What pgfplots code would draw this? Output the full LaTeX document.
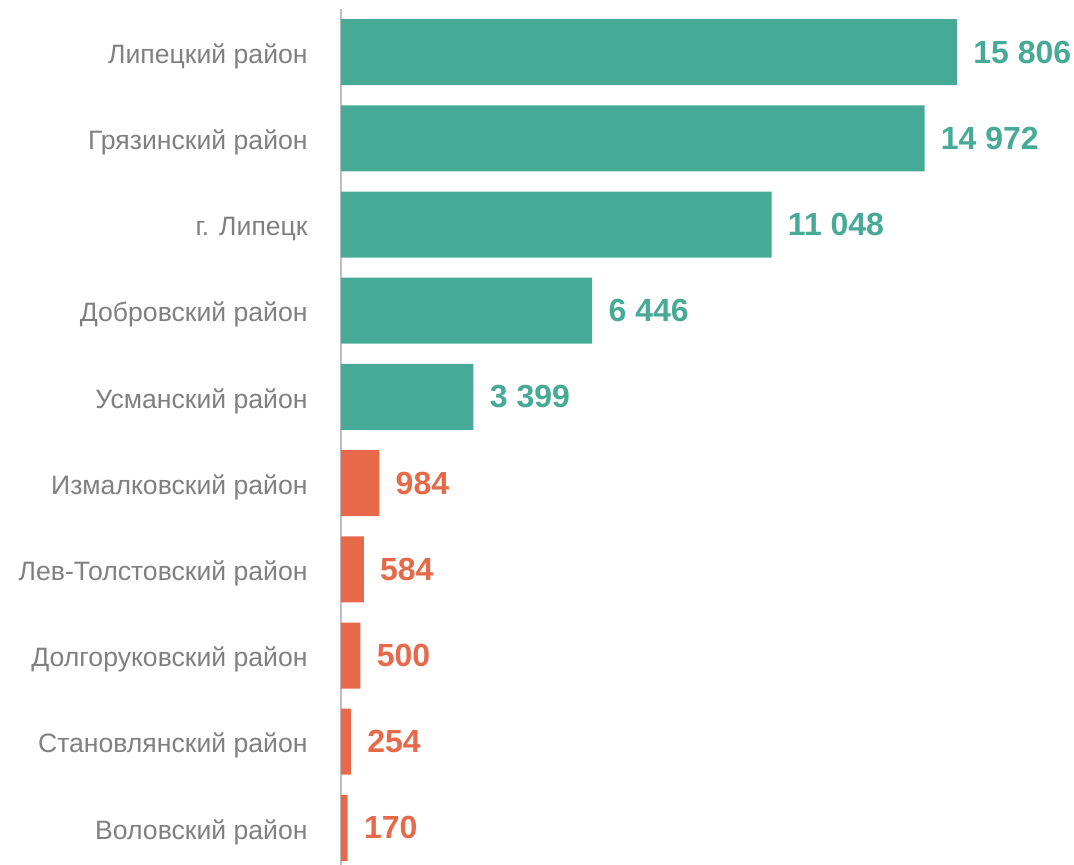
\documentclass[border=0pt]{standalone}
\usepackage{pgfplots}
\pgfplotsset{compat=1.18}
\usepackage{fontspec}
\setmainfont{Liberation Sans}
\definecolor{teal}{HTML}{46AA96}
\definecolor{coral}{HTML}{E8694A}
\definecolor{lbl}{HTML}{808080}
\definecolor{axl}{HTML}{BFBFBF}
\begin{document}
\begin{tikzpicture}
\begin{axis}[
  name=ax,
  scale only axis,
  width=366.5pt, height=428pt,
  xbar, bar width=33pt, bar shift=0pt,
  xmin=0, xmax=18808,
  ymin=-0.5, ymax=9.43,
  y dir=reverse,
  axis x line=none,
  axis y line*=left,
  y axis line style={draw=axl, line width=1.3pt, -},
  ytick={0,...,9},
  yticklabels={Липецкий район, Грязинский район, г. Липецк, Добровский район, Усманский район, Измалковский район, Лев-Толстовский район, Долгоруковский район, Становлянский район, Воловский район},
  major tick length=0pt,
  yticklabel style={font=\fontsize{13.3}{15}\selectfont, text=lbl, inner sep=0pt, xshift=-16.5pt, yshift=-2pt},
  point meta=explicit symbolic,
  nodes near coords,
  nodes near coords style={font=\fontsize{16}{18}\selectfont\bfseries, anchor=west, inner sep=0pt, xshift=8pt},
  clip=false,
]
\addplot[draw=none, fill=teal, nodes near coords style={text=teal}] coordinates {
  (15806,0) [15 806]
  (14972,1) [14 972]
  (11048,2) [11 048]
  (6446,3) [6 446]
  (3399,4) [3 399]
};
\addplot[draw=none, fill=coral, nodes near coords style={text=coral}] coordinates {
  (984,5) [984]
  (584,6) [584]
  (500,7) [500]
  (254,8) [254]
  (170,9) [170]
};
\end{axis}
\pgfresetboundingbox
\useasboundingbox ([xshift=-170.5pt]ax.south west) rectangle ([yshift=4.5pt]ax.north east);
\end{tikzpicture}
\end{document}
